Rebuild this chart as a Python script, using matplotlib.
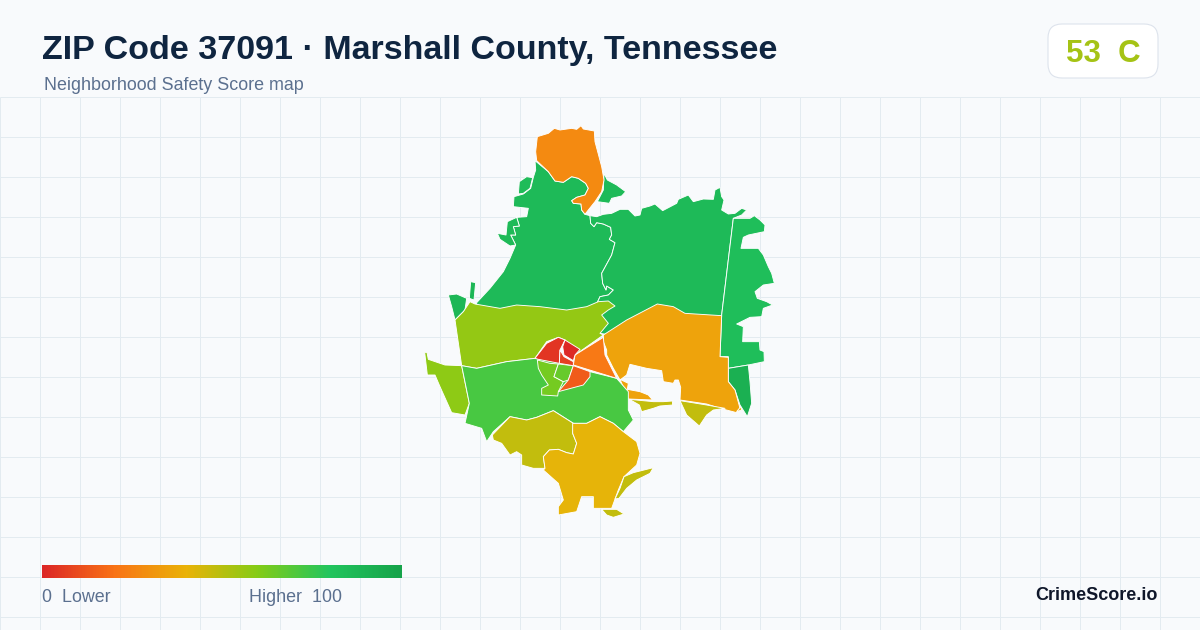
import matplotlib
matplotlib.use('Agg')
import matplotlib.pyplot as plt
import numpy as np
from matplotlib.colors import LinearSegmentedColormap
from matplotlib.patches import FancyBboxPatch, Polygon

title = 'ZIP Code 37091 · Marshall County, Tennessee'
subtitle = 'Neighborhood Safety Score map'
score_text = '53  C'
brand = 'CrimeScore.io'
legend_low = '0  Lower'
legend_high = 'Higher  100'

# colour scale of the legend, 0 to 100
scale_stops = [0, 0.2, 0.4, 0.6, 0.8, 1]
scale_colors = ['#dc2626', '#f97316', '#eab308', '#84cc16', '#22c55e', '#16a34a']

# block group outlines in map units, north half (y measured from the top of the map)
north_cap = [(352,50),(385,40),(403,25),(420,30),(455,25),(470,28),(483,17),(490,27),(523,33),(525,65),(533,95),(545,140),(552,180),(545,215),(525,245),(505,270),(495,283),(485,270),(483,252),(460,250),(455,242),(470,232),(495,225),(505,205),(497,190),(475,175),(455,170),(430,187),(405,183),(385,155),(350,122),(347,95)]
north_cap_east = [(552,160),(562,180),(590,195),(617,215),(605,228),(575,235),(568,250),(532,245),(550,210)]
northwest = [(345,122),(385,155),(405,183),(430,187),(455,170),(475,175),(497,190),(505,205),(495,225),(470,232),(455,242),(460,250),(483,252),(485,270),(495,283),(510,287),(512,310),(522,320),(530,308),(550,312),(572,322),(575,345),(568,358),(585,368),(575,405),(545,460),(548,490),(558,510),(560,498),(580,510),(565,525),(540,530),(533,545),(530,575),(170,575),(170,548),(210,505),(250,455),(270,415),(287,375),(272,345),(287,345),(280,320),(298,318),(290,292),(320,290),(325,265),(280,260),(282,230),(310,222),(332,205),(340,172),(347,150)]
west_tab = [(290,292),(262,305),(258,345),(232,340),(240,358),(270,378),(287,375),(272,345),(287,345),(280,320),(298,318)]
west_knob = [(295,222),(298,185),(320,170),(338,173),(330,205),(310,220)]
west_foot = [(85,525),(110,522),(140,535),(135,570),(105,600),(95,560)]
west_spike = [(152,485),(167,488),(162,540),(148,535)]
northeast = [(510,287),(530,290),(550,283),(575,280),(600,268),(625,268),(645,288),(660,285),(665,265),(690,258),(705,252),(728,272),(770,250),(775,238),(805,225),(820,245),(850,237),(880,238),(885,210),(900,202),(905,230),(912,240),(905,270),(925,282),(945,280),(965,265),(980,270),(965,285),(940,295),(905,585),(905,600),(570,645),(540,640),(530,575),(533,545),(540,530),(565,525),(580,510),(560,498),(558,510),(548,490),(545,460),(575,405),(585,368),(568,358),(575,345),(572,322),(550,312),(530,308),(522,320),(512,310)]
east = [(940,295),(990,295),(1003,287),(1020,300),(1035,315),(1033,335),(985,345),(970,352),(963,385),(1015,385),(1030,405),(1045,440),(1055,460),(1063,490),(1030,495),(1005,515),(1012,535),(1040,545),(1058,555),(1030,565),(1025,590),(990,592),(950,612),(970,620),(968,665),(1018,665),(1020,690),(1032,695),(1033,725),(985,735),(925,745),(925,710),(900,710),(905,585)]

# south half, y measured from the start of the south half
southeast = [(925,205),(985,195),(990,245),(995,310),(982,350),(960,315),(945,270),(925,245)]
east_centre = [(550,105),(620,60),(712,12),(760,20),(795,40),(905,47),(900,170),(925,172),(925,245),(945,270),(960,325),(950,338),(900,325),(860,312),(780,300),(782,262),(775,240),(765,240),(760,250),(730,245),(725,212),(680,205),(630,193),(620,225),(600,240),(580,205),(560,165),(560,150),(550,125)]
east_centre_tail = [(600,238),(625,250),(622,268),(660,275),(685,285),(698,300),(625,297)]
east_sliver = [(950,335),(962,320),(965,330)]
olive_strip = [(628,298),(700,305),(730,305),(757,303),(758,315),(720,318),(700,325),(665,335),(658,315)]
olive_hook = [(780,302),(860,315),(915,325),(880,330),(860,345),(838,378),(800,345)]
north_lime = [(105,60),(130,35),(150,5),(165,12),(240,25),(290,15),(360,20),(440,30),(500,20),(535,5),(565,3),(585,18),(565,30),(545,45),(565,70),(540,100),(550,105),(465,165),(435,120),(415,112),(380,125),(345,175),(260,185),(170,205),(125,197)]
west_lime = [(14,157),(21,157),(25,178),(75,195),(125,197),(148,310),(135,345),(95,338),(60,260),(45,225),(22,225)]
south_green = [(125,197),(170,205),(260,185),(345,175),(460,195),(510,215),(590,235),(625,275),(625,300),(625,330),(640,360),(610,395),(580,370),(540,350),(500,370),(460,370),(400,332),(350,352),(320,360),(270,350),(220,395),(200,425),(185,385),(135,370),(148,310)]
town_west = [(352,180),(390,190),(415,192),(402,230),(430,245),(415,275),(413,288),(365,285),(365,265),(385,255),(365,225),(355,205)]
town_mid = [(415,192),(460,197),(445,240),(430,245),(402,230)]
town_south = [(460,197),(510,215),(510,230),(490,255),(415,275),(445,240)]
town_east = [(465,165),(550,112),(555,165),(590,235),(460,195)]
town_north = [(345,175),(380,130),(415,112),(435,120),(420,150),(418,190),(355,178)]
town_core = [(420,150),(432,170),(460,185),(460,197),(418,190)]
town_top = [(435,120),(480,148),(465,165),(460,182),(432,165),(428,140)]
southwest = [(217,405),(270,350),(320,360),(350,352),(400,332),(460,370),(458,400),(470,430),(460,462),(440,458),(415,448),(388,450),(370,470),(375,505),(340,505),(305,495),(305,465),(290,455),(270,465),(245,430),(220,420)]
south = [(458,370),(500,370),(540,350),(580,370),(610,395),(650,425),(660,460),(650,495),(612,530),(595,570),(575,625),(520,625),(520,590),(485,590),(470,635),(415,645),(415,620),(430,600),(415,550),(370,510),(375,505),(370,470),(388,450),(415,448),(440,458),(460,462),(470,430),(458,400)]
south_arm = [(700,503),(690,520),(650,540),(620,565),(597,595),(585,597),(600,565),(612,530),(640,518)]
south_islet = [(545,628),(590,628),(612,642),(580,652),(560,645)]

# scores estimated from the fill colours, in drawing order
north_shapes = [north_cap_east, northwest, west_tab, west_knob, west_foot, west_spike, northeast, east, north_cap]
north_scores = [86, 86, 86, 85, 88, 88, 86, 84, 27]
south_shapes = [southeast, east_centre, east_centre_tail, east_sliver, olive_strip, olive_hook, north_lime, west_lime,
                south_green, town_west, town_mid, town_south, town_east, town_north, town_core, town_top,
                southwest, south, south_arm, south_islet]
south_scores = [92, 35, 35, 38, 48, 48, 57, 58, 72, 63, 66, 14, 22, 4, 7, 1, 48, 41, 48, 48]

SOUTH_OFFSET = 540

plt.rcParams['font.family'] = ['Liberation Sans', 'DejaVu Sans']

fig = plt.figure(figsize=(12, 6.3), dpi=100, facecolor='#f8fafc')

# page layer in pixels
page = fig.add_axes([0, 0, 1, 1])
page.set_xlim(0, 1200)
page.set_ylim(630, 0)
page.axis('off')

for gx in np.arange(0, 1201, 40):
    page.plot([gx, gx], [97, 630], color='#e3ebf0', lw=0.72, solid_capstyle='butt', zorder=1)
for gy in np.arange(97, 630, 40):
    page.plot([0, 1200], [gy, gy], color='#e3ebf0', lw=0.72, solid_capstyle='butt', zorder=1)

page.text(42, 50, title, fontsize=24.5, fontweight='bold', color='#0f2540', va='center', ha='left')
page.text(44, 86, subtitle, fontsize=12.9, color='#5b708f', va='center', ha='left')

badge = FancyBboxPatch((1060, 36), 86, 30, boxstyle='round,pad=12,rounding_size=14', fc='white',
                       ec='#dde3ec', lw=0.8, zorder=2)
page.add_patch(badge)
page.text(1103, 54, score_text, fontsize=22.5, fontweight='bold', color='#a5c315', va='center', ha='center', zorder=3)

page.text(1158, 595, brand, fontsize=13, fontweight='bold', color='#0f172a', va='center', ha='right')
page.text(42, 598, legend_low, fontsize=12.9, color='#5b708f', va='center', ha='left')
page.text(249, 598, legend_high, fontsize=12.9, color='#5b708f', va='center', ha='left')

cmap = LinearSegmentedColormap.from_list('safety', list(zip(scale_stops, scale_colors)))

# legend bar
bar = fig.add_axes([42 / 1200, 1 - 578 / 630, 360 / 1200, 13 / 630])
bar.imshow(np.linspace(0, 1, 360).reshape(1, -1), cmap=cmap, aspect='auto', vmin=0, vmax=1)
bar.axis('off')

# map layer, x 420-790 and y 120-525 on the page
ax = fig.add_axes([420 / 1200, 1 - 525 / 630, 370 / 1200, 405 / 630])
ax.set_xlim(0, 1110)
ax.set_ylim(1215, 0)
ax.axis('off')
ax.patch.set_alpha(0)

for pts, score in zip(north_shapes, north_scores):
    ax.add_patch(Polygon(pts, closed=True, fc=cmap(score / 100), ec='white', lw=0.65, joinstyle='round'))
for pts, score in zip(south_shapes, south_scores):
    arr = np.array(pts, dtype=float) + [0, SOUTH_OFFSET]
    ax.add_patch(Polygon(arr, closed=True, fc=cmap(score / 100), ec='white', lw=0.65, joinstyle='round'))

fig.savefig('out.png', dpi=100, facecolor=fig.get_facecolor())
